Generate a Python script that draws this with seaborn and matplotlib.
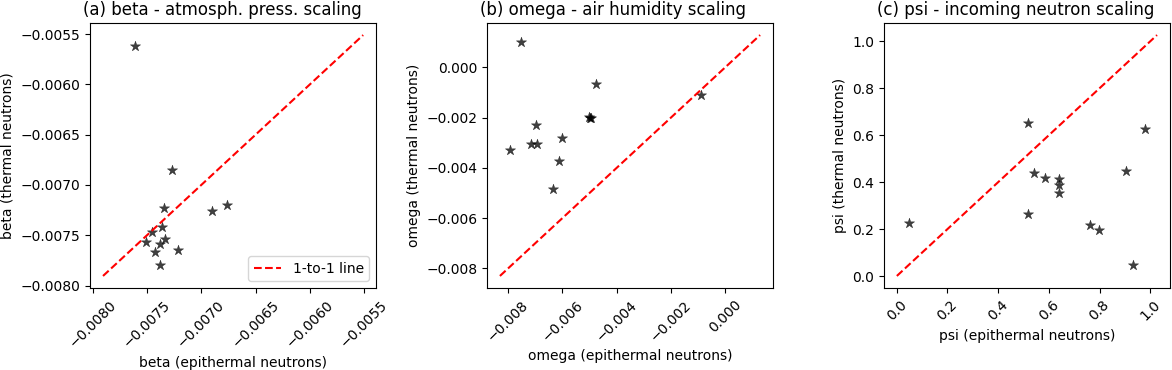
import numpy as np
import seaborn as sns
from matplotlib import pyplot as plt

# values (13 stations)
beta_epi = [-0.007614, -0.007274, -0.007347, -0.006906, -0.006768, -0.007366, -0.007452,
            -0.007513, -0.007338, -0.007378, -0.007424, -0.007216, -0.007384]
beta_th = [-0.005619, -0.006856, -0.007232, -0.007258, -0.007202, -0.007420, -0.007469,
           -0.007565, -0.007538, -0.007584, -0.007664, -0.007644, -0.007796]

omega_epi = [-0.007523, -0.004746, -0.000893, -0.005028, -0.004966, -0.005000, -0.006985,
             -0.007168, -0.006948, -0.006030, -0.007951, -0.006128, -0.006361]
omega_th = [0.000990, -0.000673, -0.001109, -0.001980, -0.002007, -0.002000, -0.002297,
            -0.003050, -0.003050, -0.002799, -0.003274, -0.003723, -0.004832]

psi_epi = [0.047, 0.518, 0.980, 0.540, 0.586, 0.642, 0.642, 0.642, 0.904, 0.518, 0.763, 0.798, 0.932]
psi_th = [0.226, 0.653, 0.628, 0.438, 0.417, 0.413, 0.388, 0.354, 0.446, 0.263, 0.218, 0.197, 0.048]

panels = [
    ("beta", "(a) beta - atmosph. press. scaling", beta_epi, beta_th),
    ("omega", "(b) omega - air humidity scaling", omega_epi, omega_th),
    ("psi", "(c) psi - incoming neutron scaling", psi_epi, psi_th),
]
title_x = [0.462, 0.441, 0.462]  # titles sit a bit left of centre in the original

fig, axs = plt.subplots(1, 3, figsize=(11.72, 3.7))
plt.subplots_adjust(left=0.0768, right=0.9983, bottom=0.2216, top=0.9378, wspace=0.387)

for i, (name, title, epi, th) in enumerate(panels):
    ax = axs[i]
    sns.scatterplot(x=epi, y=th, ax=ax, marker='*', color='k', alpha=0.75,
                    s=60, edgecolor='k', linewidth=0.3)
    # 1-to-1 line spanning the autoscaled limits
    x0, x1 = ax.get_xlim()
    y0, y1 = ax.get_ylim()
    lo, hi = min(x0, y0), max(x1, y1)
    ax.plot([lo, hi], [lo, hi], 'r--', label='1-to-1 line')
    ax.set_title(title, x=title_x[i])
    ax.set_xlabel(name + " (epithermal neutrons)")
    ax.set_ylabel(name + " (thermal neutrons)")
    ax.tick_params(axis='x', labelrotation=45)
    if i == 0:
        ax.legend(loc='lower right')

plt.savefig("out.png", dpi=100)
plt.close()
